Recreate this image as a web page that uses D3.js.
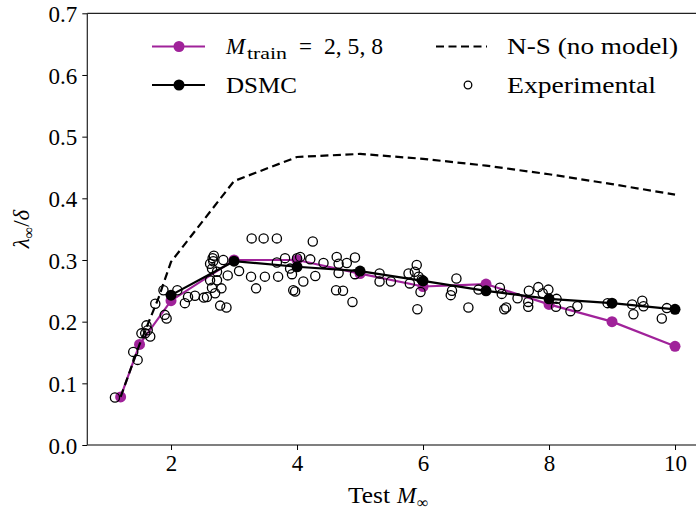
<!DOCTYPE html>
<html>
<head>
<meta charset="utf-8">
<script src="https://cdnjs.cloudflare.com/ajax/libs/d3/7.8.5/d3.min.js"></script>
<style>
  body { margin: 0; background: #fff; }
</style>
</head>
<body>
<div id="main"></div>
<script>
// Data
const machX = [1.2, 1.5, 2, 3, 4, 5, 6, 7, 8, 9, 10];
const trainY = [0.078, 0.163, 0.234, 0.300, 0.300, 0.278, 0.257, 0.261, 0.228, 0.200, 0.160];

const dsmcX = [2, 3, 4, 5, 6, 7, 8, 9, 10];
const dsmcY = [0.243, 0.298, 0.289, 0.282, 0.266, 0.250, 0.237, 0.230, 0.220];

const nsX = [1.2, 1.5, 1.8, 2, 3, 4, 5, 6, 7, 8, 9, 10];
const nsY = [0.078, 0.163, 0.238, 0.297, 0.428, 0.467, 0.472, 0.464, 0.453, 0.439, 0.423, 0.406];

const expX = [1.11, 1.40, 1.47, 1.53, 1.59, 1.61, 1.67, 1.63, 1.75, 1.90, 1.93, 1.88, 2.10, 2.22, 2.27,
  2.38, 2.52, 2.57, 2.62, 2.66, 2.68, 2.67, 2.83, 2.65, 2.73, 2.62, 2.73, 2.65, 2.80, 2.70, 2.90, 3.08,
  2.78, 2.88, 3.28, 3.47, 3.68, 3.27, 3.49, 3.35, 3.70, 3.68, 3.81, 3.89, 3.92, 3.94, 3.97, 4.10, 4.00,
  4.25, 4.05, 4.21, 4.42, 4.29, 4.63, 4.66, 4.79, 4.92, 4.66, 4.92, 4.62, 4.73, 4.88, 5.31, 5.31, 5.49,
  5.77, 5.79, 5.90, 5.87, 5.93, 5.91, 5.96, 5.98, 6.53, 6.46, 6.44, 6.72, 6.88, 7.22, 7.25, 7.29, 7.32,
  7.50, 7.68, 7.67, 7.67, 7.83, 7.90, 7.99, 8.12, 8.11, 8.34, 8.45, 8.93, 9.32, 9.34, 9.48, 9.50, 9.79, 9.87];
const expY = [0.077, 0.151, 0.138, 0.181, 0.181, 0.194, 0.176, 0.186, 0.229, 0.211, 0.205, 0.251, 0.251, 0.230, 0.240,
  0.242, 0.239, 0.240, 0.294, 0.303, 0.307, 0.298, 0.300, 0.286, 0.281, 0.267, 0.267, 0.255, 0.254, 0.246, 0.275, 0.282,
  0.226, 0.223, 0.335, 0.335, 0.335, 0.273, 0.273, 0.254, 0.273, 0.296, 0.303, 0.286, 0.277, 0.251, 0.249, 0.265, 0.303,
  0.330, 0.305, 0.301, 0.295, 0.274, 0.305, 0.294, 0.295, 0.304, 0.279, 0.277, 0.251, 0.250, 0.232, 0.278, 0.265, 0.265,
  0.278, 0.262, 0.292, 0.281, 0.273, 0.220, 0.248, 0.268, 0.270, 0.250, 0.243, 0.223, 0.252, 0.255, 0.245, 0.220, 0.223,
  0.238, 0.250, 0.232, 0.224, 0.256, 0.246, 0.252, 0.237, 0.224, 0.217, 0.225, 0.230, 0.228, 0.212, 0.234, 0.225, 0.205, 0.222];

const xTicks = [2, 4, 6, 8, 10];
const yTicks = [0, 0.1, 0.2, 0.3, 0.4, 0.5, 0.6, 0.7];

// Colours and font
const magenta = '#a0229a';
const serif = '"Liberation Serif"';

// Layout
const w = 696, h = 515;
const padL = 87.3, padT = 13.3, baseY = 445;

const svg = d3.select('#main').append('svg')
  .attr('width', w)
  .attr('height', h)
  .style('font-family', serif);

// Scales
const xScale = d3.scaleLinear().domain([0.671, 10.45]).range([padL, padL + 9.779 * 63]);
const yScale = d3.scaleLinear().domain([0, 0.7]).range([baseY, padT]);

// Axes
const xAxis = d3.axisBottom(xScale).tickValues(xTicks).tickFormat(d3.format('d')).tickSize(5).tickPadding(5);
const yAxis = d3.axisLeft(yScale).tickValues(yTicks).tickFormat(d3.format('.1f')).tickSize(5).tickPadding(5);

const gx = svg.append('g').attr('transform', `translate(0,${baseY})`).call(xAxis);
const gy = svg.append('g').attr('transform', `translate(${padL},0)`).call(yAxis);
[gx, gy].forEach(g => {
  g.attr('font-family', null).attr('font-size', null);
  g.select('.domain').remove();
  g.selectAll('line').attr('stroke', '#000').attr('stroke-width', 1);
  g.selectAll('text').attr('fill', '#000').style('font-family', serif).style('font-size', '23px');
});
gy.selectAll('text').attr('dy', '0.35em');

// Spines
svg.append('line').attr('x1', padL).attr('x2', w).attr('y1', padT).attr('y2', padT).attr('stroke', '#222').attr('stroke-width', 1.2);
svg.append('line').attr('x1', padL).attr('x2', w).attr('y1', baseY).attr('y2', baseY).attr('stroke', '#000').attr('stroke-width', 1.2);
svg.append('line').attr('x1', padL).attr('x2', padL).attr('y1', padT).attr('y2', baseY).attr('stroke', '#222').attr('stroke-width', 1.2);

const line = d3.line().x(d => xScale(d[0])).y(d => yScale(d[1]));

const trainData = machX.map((x, i) => [x, trainY[i]]);
const dsmcData = dsmcX.map((x, i) => [x, dsmcY[i]]);
const nsData = nsX.map((x, i) => [x, nsY[i]]);
const expData = expX.map((x, i) => [x, expY[i]]);

// M_train
svg.append('path').datum(trainData).attr('d', line)
  .attr('fill', 'none').attr('stroke', magenta).attr('stroke-width', 2.2);
svg.selectAll('.train').data(trainData).enter().append('circle')
  .attr('cx', d => xScale(d[0])).attr('cy', d => yScale(d[1])).attr('r', 5.5).attr('fill', magenta);

// DSMC
svg.append('path').datum(dsmcData).attr('d', line)
  .attr('fill', 'none').attr('stroke', '#000').attr('stroke-width', 2.2);
svg.selectAll('.dsmc').data(dsmcData).enter().append('circle')
  .attr('cx', d => xScale(d[0])).attr('cy', d => yScale(d[1])).attr('r', 5.5).attr('fill', '#000');

// N-S
svg.append('path').datum(nsData).attr('d', line)
  .attr('fill', 'none').attr('stroke', '#000').attr('stroke-width', 2.2).attr('stroke-dasharray', '8,4.5');

// Experimental
svg.selectAll('.exp').data(expData).enter().append('circle')
  .attr('cx', d => xScale(d[0])).attr('cy', d => yScale(d[1])).attr('r', 4.6)
  .attr('fill', 'none').attr('stroke', '#000').attr('stroke-width', 1.3);

// helper for text
function txt(parent, x, y, size) {
  return parent.append('text').attr('x', x).attr('y', y)
    .style('font-family', serif).style('font-size', size + 'px').attr('fill', '#000');
}
// stretch the serif glyphs to the width of the original lettering
function fit(sel, len) {
  return sel.attr('textLength', len).attr('lengthAdjust', 'spacingAndGlyphs');
}

// Labels
fit(txt(svg, 348, 503, 23), 42).text('Test');
txt(svg, 397, 503, 23).style('font-style', 'italic').text('M');
txt(svg, 417, 508, 16).text('∞');

const yl = svg.append('text').attr('transform', 'translate(29,229) rotate(-90)').attr('text-anchor', 'middle')
  .style('font-family', serif).style('font-size', '23px');
yl.append('tspan').style('font-style', 'italic').text('λ');
yl.append('tspan').attr('dy', 5).style('font-size', '16px').text('∞');
yl.append('tspan').attr('dy', -5).text('/');
yl.append('tspan').style('font-style', 'italic').text('δ');

// Legend
const leg = svg.append('g');
leg.append('line').attr('x1', 152).attr('x2', 205).attr('y1', 46.5).attr('y2', 46.5).attr('stroke', magenta).attr('stroke-width', 2.2);
leg.append('circle').attr('cx', 179).attr('cy', 46.5).attr('r', 5.5).attr('fill', magenta);
txt(leg, 226, 54, 23).style('font-style', 'italic').text('M');
fit(txt(leg, 247, 59, 16), 40).text('train');
txt(leg, 299, 54, 23).text('=');
fit(txt(leg, 324, 54, 23), 59).text('2, 5, 8');

leg.append('line').attr('x1', 152).attr('x2', 205).attr('y1', 85).attr('y2', 85).attr('stroke', '#000').attr('stroke-width', 2.2);
leg.append('circle').attr('cx', 179).attr('cy', 85).attr('r', 5.5).attr('fill', '#000');
fit(txt(leg, 226, 93, 23), 71).text('DSMC');

leg.append('line').attr('x1', 436).attr('x2', 487).attr('y1', 46.5).attr('y2', 46.5).attr('stroke', '#000').attr('stroke-width', 2.2).attr('stroke-dasharray', '8,4.5');
fit(txt(leg, 507, 54, 23), 171).text('N-S (no model)');

leg.append('circle').attr('cx', 468).attr('cy', 85).attr('r', 3.8).attr('fill', 'none').attr('stroke', '#000').attr('stroke-width', 1.3);
fit(txt(leg, 507, 93, 23), 149).text('Experimental');
</script>
</body>
</html>
